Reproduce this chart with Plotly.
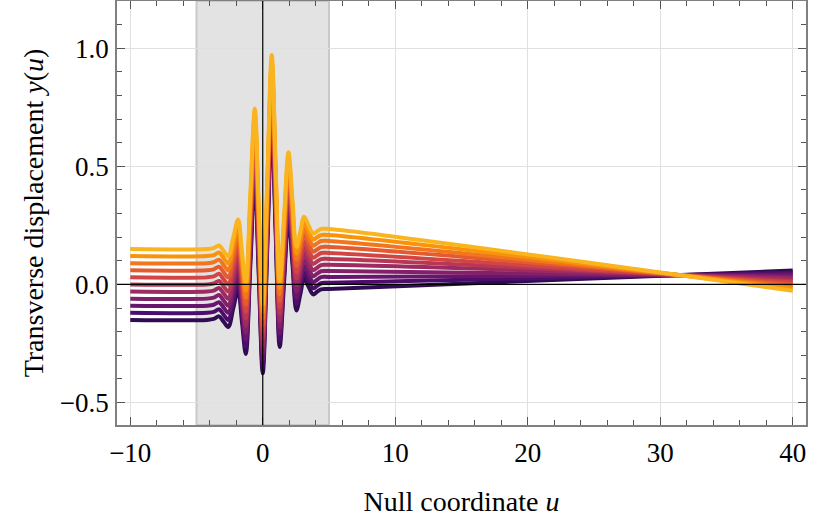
"""Transverse displacement of a family of geodesics crossing a wave packet."""

import plotly.graph_objects as go
from plotly.colors import sample_colorscale
import plotly.express as px

# null coordinate samples (shared by every curve)
u = [-10, -4.2, -3.7, -3.3, -2.95, -2.6, -2.23, -1.86, -1.57, -1.28,
     -0.94, -0.6, -0.3, 0, 0.34, 0.68, 0.98, 1.28, 1.61, 1.94,
     2.24, 2.54, 2.83, 3.12, 3.46, 3.8, 4.1, 4.4, 5, 40]

# initial transverse offsets of the curves
offsets = [-0.15, -0.12, -0.09, -0.06, -0.03, 0.0, 0.03, 0.06, 0.09, 0.12, 0.15]

# displacement y(u) for each curve
y_m15 = [-0.15, -0.15, -0.146, -0.135, -0.158, -0.18, -0.102, -0.023, -0.158, -0.294,
         0.079, 0.451, 0.038, -0.376, 0.154, 0.686, 0.210, -0.265, 0.010, 0.286,
         0.088, -0.110, -0.043, 0.025, -0.010, -0.042, -0.031, -0.021, -0.019, 0.059]
y_m12 = [-0.12, -0.12, -0.116, -0.105, -0.128, -0.15, -0.072, 0.007, -0.128, -0.264,
         0.109, 0.480, 0.067, -0.347, 0.183, 0.714, 0.238, -0.237, 0.038, 0.313,
         0.115, -0.083, -0.016, 0.051, 0.016, -0.016, -0.006, 0.005, 0.007, 0.050]
y_m09 = [-0.09, -0.09, -0.086, -0.075, -0.098, -0.12, -0.042, 0.036, -0.098, -0.234,
         0.138, 0.510, 0.097, -0.318, 0.212, 0.743, 0.266, -0.209, 0.066, 0.341,
         0.143, -0.057, 0.010, 0.077, 0.042, 0.010, 0.020, 0.031, 0.032, 0.042]
y_m06 = [-0.06, -0.06, -0.056, -0.045, -0.068, -0.09, -0.012, 0.066, -0.069, -0.204,
         0.168, 0.539, 0.126, -0.289, 0.241, 0.771, 0.294, -0.181, 0.094, 0.368,
         0.170, -0.030, 0.037, 0.104, 0.068, 0.035, 0.046, 0.056, 0.057, 0.033]
y_m03 = [-0.03, -0.03, -0.026, -0.015, -0.038, -0.06, 0.018, 0.096, -0.039, -0.175,
         0.197, 0.569, 0.155, -0.260, 0.269, 0.800, 0.323, -0.153, 0.121, 0.396,
         0.197, -0.003, 0.063, 0.130, 0.094, 0.061, 0.071, 0.082, 0.083, 0.025]
y_p00 = [0.0, 0.0, 0.004, 0.015, -0.008, -0.03, 0.048, 0.126, -0.009, -0.145,
         0.227, 0.598, 0.184, -0.231, 0.298, 0.828, 0.351, -0.125, 0.149, 0.423,
         0.224, 0.024, 0.090, 0.156, 0.120, 0.087, 0.097, 0.107, 0.108, 0.016]
y_p03 = [0.03, 0.03, 0.034, 0.045, 0.022, 0.0, 0.078, 0.156, 0.021, -0.115,
         0.257, 0.627, 0.213, -0.202, 0.327, 0.857, 0.379, -0.097, 0.177, 0.451,
         0.251, 0.051, 0.117, 0.182, 0.146, 0.113, 0.123, 0.133, 0.133, 0.008]
y_p06 = [0.06, 0.06, 0.064, 0.075, 0.052, 0.03, 0.108, 0.186, 0.051, -0.086,
         0.286, 0.657, 0.242, -0.173, 0.356, 0.885, 0.408, -0.069, 0.205, 0.478,
         0.278, 0.078, 0.143, 0.209, 0.172, 0.139, 0.148, 0.158, 0.159, -0.001]
y_p09 = [0.09, 0.09, 0.094, 0.105, 0.082, 0.06, 0.138, 0.216, 0.080, -0.056,
         0.316, 0.686, 0.272, -0.144, 0.384, 0.914, 0.436, -0.041, 0.232, 0.505,
         0.306, 0.105, 0.170, 0.235, 0.198, 0.164, 0.174, 0.184, 0.184, -0.010]
y_p12 = [0.12, 0.12, 0.124, 0.135, 0.112, 0.09, 0.168, 0.245, 0.110, -0.026,
         0.345, 0.716, 0.301, -0.115, 0.413, 0.942, 0.464, -0.013, 0.260, 0.533,
         0.333, 0.131, 0.196, 0.261, 0.224, 0.190, 0.200, 0.209, 0.209, -0.018]
y_p15 = [0.15, 0.15, 0.154, 0.165, 0.142, 0.12, 0.198, 0.275, 0.140, 0.004,
         0.375, 0.745, 0.330, -0.086, 0.442, 0.971, 0.493, 0.015, 0.288, 0.560,
         0.360, 0.158, 0.223, 0.287, 0.250, 0.216, 0.225, 0.235, 0.235, -0.027]

curves = [y_m15, y_m12, y_m09, y_m06, y_m03, y_p00, y_p03, y_p06, y_p09, y_p12, y_p15]

# colours taken from the inferno map, dark for negative offsets, gold for positive
n = len(curves)
colors = sample_colorscale(px.colors.sequential.Inferno,
                           [0.16 + 0.67 * i / (n - 1) for i in range(n)])

FONT = "Liberation Serif, DejaVu Serif, serif"
TICK_FS = 27
TITLE_FS = 28

fig = go.Figure()
for c, ys, col in zip(offsets, curves, colors):
    fig.add_trace(go.Scatter(x=u, y=ys, mode="lines", name=f"{c:+.2f}",
                             line=dict(color=col, width=4, shape="spline", smoothing=1.0),
                             showlegend=False, hoverinfo="skip"))

# wave packet window
fig.add_shape(type="rect", xref="x", yref="paper", x0=-5, x1=5, y0=0, y1=1,
              fillcolor="#e3e3e3", line=dict(color="#c9c9c9", width=2), layer="below")
# black axes through the origin
fig.add_shape(type="line", xref="x", yref="paper", x0=0, x1=0, y0=0, y1=1,
              line=dict(color="black", width=1.2), layer="above")
fig.add_shape(type="line", xref="paper", yref="y", x0=0, x1=1, y0=0, y1=0,
              line=dict(color="black", width=1.2), layer="above")

axis_common = dict(
    showline=True, linecolor="#808080", linewidth=1.5, mirror="allticks",
    ticks="inside", ticklen=8, tickwidth=1, tickcolor="#555555",
    showgrid=True, gridcolor="#e0e0e0", gridwidth=1, zeroline=False,
    tickfont=dict(family=FONT, size=TICK_FS, color="black"),
    automargin=False,
)

fig.update_xaxes(
    range=[-11, 41], tick0=-10, dtick=10,
    minor=dict(dtick=2, tick0=-10, ticks="inside", ticklen=5, tickcolor="#555555", showgrid=False),
    title=dict(text="Null coordinate <i>u</i>", font=dict(family=FONT, size=TITLE_FS, color="black"),
               standoff=24),
    ticklabelstandoff=3,
    **axis_common,
)
fig.update_yaxes(
    range=[-0.595, 1.2], tick0=0, dtick=0.5, tickformat=".1f",
    minor=dict(dtick=0.1, tick0=0, ticks="inside", ticklen=5, tickcolor="#555555", showgrid=False),
    title=dict(text="Transverse displacement <i>y</i>(<i>u</i>)",
               font=dict(family=FONT, size=TITLE_FS, color="black"), standoff=8),
    ticklabelstandoff=1,
    **axis_common,
)

fig.update_layout(
    width=830, height=519,
    margin=dict(l=117, r=24, t=1, b=94),
    plot_bgcolor="white", paper_bgcolor="white",
    showlegend=False,
)

# drop the page's default body margin so the figure sits at the window corner
fig.write_html("out.html", config={"displayModeBar": False},
               post_script="document.body.style.margin='0';")
